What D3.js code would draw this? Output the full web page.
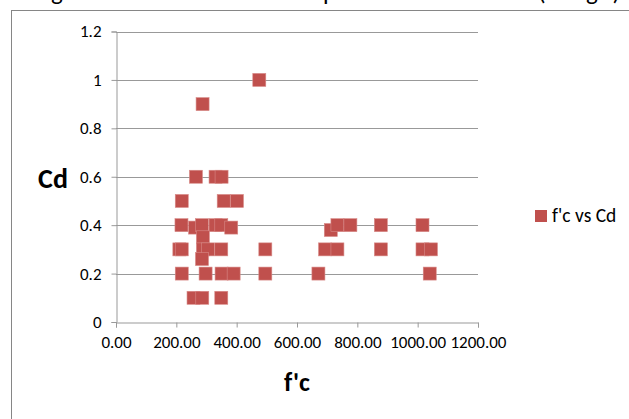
<!DOCTYPE html>
<html>
<head>
<meta charset="utf-8">
<script src="https://cdn.jsdelivr.net/npm/d3@7/dist/d3.min.js"></script>
<style>
  html, body { margin: 0; padding: 0; background: #fff; }
  svg { display: block; }
  text { font-family: Carlito, Calibri, Lato, "Liberation Sans", sans-serif; fill: #000; }
</style>
</head>
<body>
<script>
// Compressive strength f'c and discharge coefficient Cd for each test
const fcValues = [265, 330, 350,
                  218, 357, 401,
                  217, 262, 285, 330, 349, 382,
                  288,
                  210, 218, 288, 305, 349,
                  285,
                  218, 297, 350, 390,
                  257, 286, 349,
                  287, 475,
                  495, 495,
                  671, 693, 734, 712, 734, 777,
                  878, 878,
                  1016, 1016, 1044, 1040];
const cdValues = [0.6, 0.6, 0.6,
                  0.5, 0.5, 0.5,
                  0.4, 0.39, 0.4, 0.4, 0.4, 0.39,
                  0.35,
                  0.3, 0.3, 0.3, 0.3, 0.3,
                  0.26,
                  0.2, 0.2, 0.2, 0.2,
                  0.1, 0.1, 0.1,
                  0.9, 1.0,
                  0.3, 0.2,
                  0.2, 0.3, 0.3, 0.38, 0.4, 0.4,
                  0.4, 0.3,
                  0.4, 0.3, 0.3, 0.2];
const xTicks = [0, 200, 400, 600, 800, 1000, 1200];
const yTicks = [0, 0.2, 0.4, 0.6, 0.8, 1, 1.2];
const seriesName = "f'c vs Cd";
// title pieces, each with its start position and run length along the top edge
const titleParts = ["Figure 5.3 Cd and f'c of all s", "pecimens in the series", "(kg)"];
const titleX = [33, 323, 538];
const titleLen = [286, 208, 82];

const W = 629, H = 419;
const svg = d3.select("body").append("svg").attr("width", W).attr("height", H);

// chart frame
svg.append("rect").attr("x", 11.5).attr("y", 10.5).attr("width", 640).attr("height", 420)
  .attr("fill", "none").attr("stroke", "#868686").attr("stroke-width", 1);

// title sits above the frame
svg.append("g").selectAll("text").data(titleParts).join("text")
  .attr("x", (d, i) => titleX[i]).attr("y", 0).attr("font-size", 25)
  .attr("textLength", (d, i) => titleLen[i]).attr("lengthAdjust", "spacing")
  .text(d => d);

const x = d3.scaleLinear().domain([0, 1200]).range([116, 478]);
const y = d3.scaleLinear().domain([0, 1.2]).range([322, 31.5]);

// horizontal gridlines
svg.append("g").selectAll("line").data(yTicks.filter(d => d > 0)).join("line")
  .attr("x1", x(0)).attr("x2", x(1200))
  .attr("y1", d => Math.round(y(d)) + 0.5).attr("y2", d => Math.round(y(d)) + 0.5)
  .attr("stroke", "#999999").attr("stroke-width", 1);

const yAxis = svg.append("g").attr("transform", `translate(${Math.round(x(0)) + 0.5},0)`)
  .call(d3.axisLeft(y).tickValues(yTicks).tickSize(5).tickPadding(10)
    .tickFormat(d => String(+d.toFixed(1))));
const xAxis = svg.append("g").attr("transform", `translate(0,${Math.round(y(0)) + 0.5})`)
  .call(d3.axisBottom(x).tickValues(xTicks).tickSize(5).tickPadding(8)
    .tickFormat(d3.format(".2f")));

[yAxis, xAxis].forEach(g => {
  g.select(".domain").attr("stroke", "#999999");
  g.selectAll(".tick line").attr("stroke", "#999999");
  g.selectAll(".tick text").attr("font-size", 17).attr("fill", "#000")
    .style("font-family", "Carlito, Calibri, Lato, sans-serif");
});

// axis titles
svg.append("text").attr("x", 53).attr("y", 188).attr("text-anchor", "middle")
  .attr("font-size", 28).attr("font-weight", "bold").text("Cd");
svg.append("text").attr("x", 297).attr("y", 391).attr("text-anchor", "middle")
  .attr("font-size", 26).attr("font-weight", "bold").text("f'c");

// square markers
const pts = fcValues.map((v, i) => ({ fc: v, cd: cdValues[i] }));
const s = 13;
svg.append("g").selectAll("rect").data(pts).join("rect")
  .attr("x", d => x(d.fc) - s / 2).attr("y", d => y(d.cd) - s / 2)
  .attr("width", s).attr("height", s)
  .attr("fill", "#c0504d").attr("stroke", "#d88a88").attr("stroke-width", 0.6);

// legend
const lg = svg.append("g").attr("transform", "translate(535,210)");
lg.append("rect").attr("width", 12).attr("height", 12).attr("fill", "#c0504d");
lg.append("text").attr("x", 17).attr("y", 12).attr("font-size", 19.5).text(seriesName);
</script>
</body>
</html>
